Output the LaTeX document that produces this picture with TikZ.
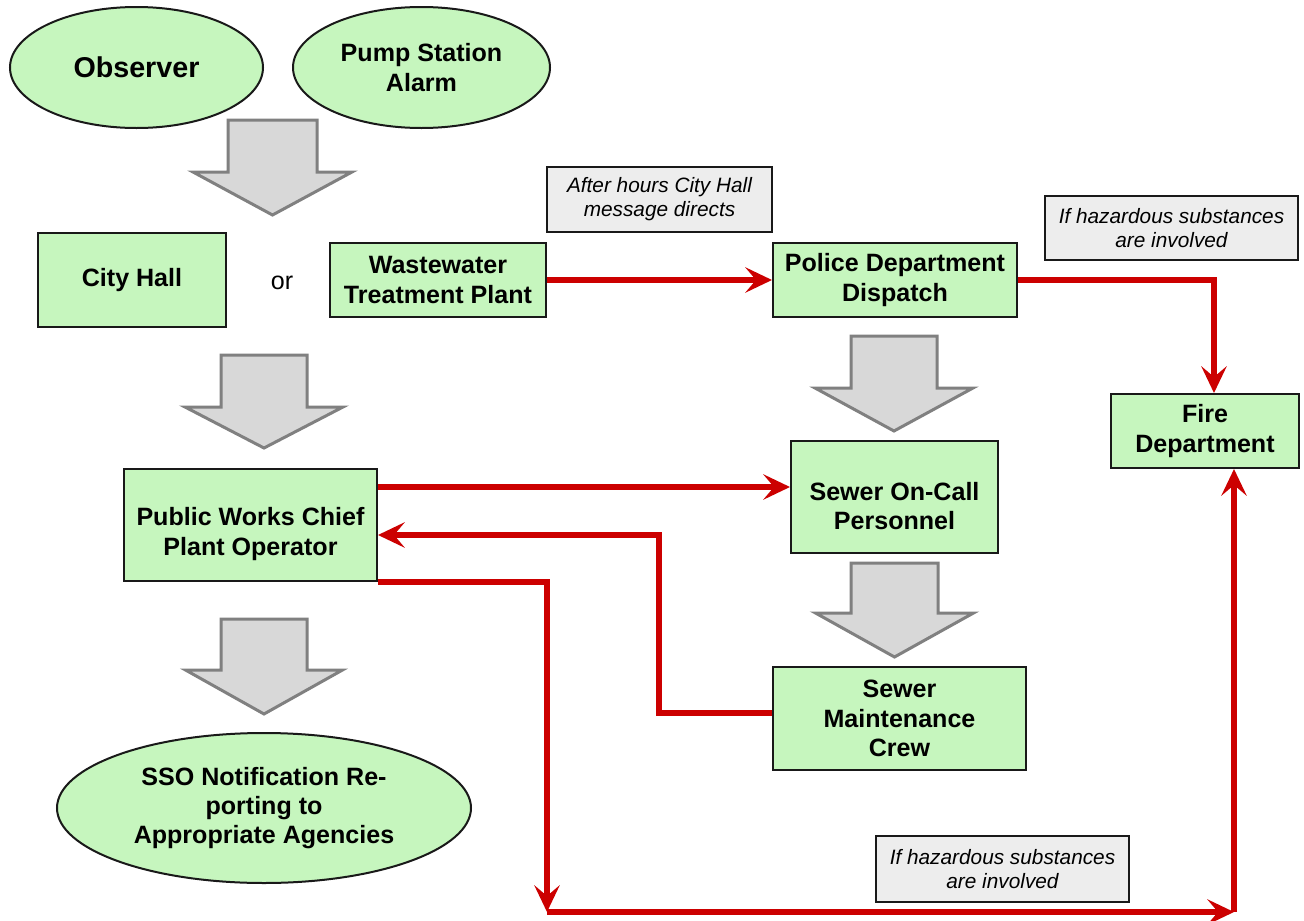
\documentclass[tikz,border=0pt]{standalone}
\usepackage{fontspec}
\setmainfont{Liberation Sans}
\usetikzlibrary{shapes.geometric,arrows.meta,calc}
\definecolor{boxgreen}{RGB}{198,246,190}
\definecolor{notegray}{RGB}{237,237,237}
\definecolor{arrowfill}{RGB}{216,216,216}
\definecolor{arrowedge}{RGB}{128,128,128}
\definecolor{linkred}{RGB}{204,0,0}
\newcommand\blockarrow[6]{%
  \draw[bigarrow] (#1-#3,#2) -- (#1+#3,#2) -- (#1+#3,#4) -- (#1+#5,#4) -- (#1,#6) -- (#1-#5,#4) -- (#1-#3,#4) -- cycle;}
\begin{document}
\begin{tikzpicture}[x=0.75pt,y=-0.75pt,
  wh/.style 2 args={minimum width=#1*0.75pt, minimum height=#2*0.75pt},
  boldtext/.style={align=center, font=\fontsize{18.8}{22}\selectfont\bfseries},
  box/.style={draw=black!90, line width=1.5pt, fill=boxgreen, inner sep=0pt, boldtext},
  oval/.style={ellipse, draw=black!90, line width=1.5pt, fill=boxgreen, inner sep=0pt, boldtext},
  note/.style={draw=black!90, line width=1.5pt, fill=notegray, inner sep=0pt, align=center, font=\fontsize{15.6}{18}\selectfont\itshape},
  link/.style={draw=linkred, line width=4.2pt, -{Stealth[length=20pt,width=19pt,inset=8pt]}},
  bigarrow/.style={draw=arrowedge, fill=arrowfill, line width=2.25pt, line join=miter}
]
\useasboundingbox (0,0) rectangle (1304,921);
\fill[white] (0,0) rectangle (1304,921);

% ellipses
\node[oval, wh={253}{121}, font=\fontsize{21.5}{25}\selectfont\bfseries] (obs) at (136.5,67.5) {Observer};
\node[oval, wh={257}{121}] (pump) at (421.5,67.5) {Pump Station\\Alarm};
\node[oval, wh={414}{150}] (sso) at (264,808) {SSO Notification Re-\\porting to\\Appropriate Agencies};

% boxes
\node[box, wh={188}{94}] (city) at (132,280) {City Hall};
\node[font=\fontsize{18.8}{22}\selectfont] (or) at (282,283) {or};
\node[box, wh={216}{74}] (wwtp) at (438,280) {Wastewater\\Treatment Plant};
\node[box, wh={244}{74}] (police) at (895,280) {Police Department\\Dispatch};
\node[box, wh={188}{74}] (fire) at (1205,431) {Fire\\Department};
\node[box, wh={207}{112}] (oncall) at (894.5,497) {};
\node[boldtext] (oncalltext) at (894.5,506) {Sewer On-Call\\Personnel};
\node[box, wh={253}{112}] (pw) at (250.5,525) {};
\node[boldtext] (pwtext) at (250.5,534) {Public Works Chief\\Plant Operator};
\node[box, wh={253}{103}] (maint) at (899.5,718.5) {Sewer\\Maintenance\\Crew};

% notes
\node[note, wh={225}{65}] (after) at (659.5,199.5) {After hours City Hall\\message directs};
\node[note, wh={253}{64}] (haz1) at (1171.5,228) {If hazardous substances\\are involved};
\node[note, wh={253}{66}] (haz2) at (1002.5,869) {If hazardous substances\\are involved};

% gray block arrows
\blockarrow{272.5}{120}{44.5}{172}{79.5}{215}
\blockarrow{894}{336}{43}{388}{79}{431}
\blockarrow{264}{355}{43}{407}{79}{448}
\blockarrow{264}{619}{43}{670}{78.5}{714}
\blockarrow{894.5}{563}{43.5}{613}{79}{657}

% red connectors
\draw[link] (wwtp.east) -- (police.west);
\draw[link] (police.east) -| ($(fire.north)+(9,0)$);
\draw[link] ($(pw.north east)+(0,19)$) -- ($(oncall.north west)+(0,47)$);
\coordinate (jog) at (659,535);
\draw[link] ($(maint.west)+(0,-5.5)$) -| (jog) -- (jog -| pw.east);
\coordinate (bl) at (547,912);
\coordinate (br) at (1234,912);
\draw[link] (pw.south east) -| (bl);
\draw[link] (bl) -- (br);
\draw[link] (br) -- (br |- fire.south);
\end{tikzpicture}
\end{document}
